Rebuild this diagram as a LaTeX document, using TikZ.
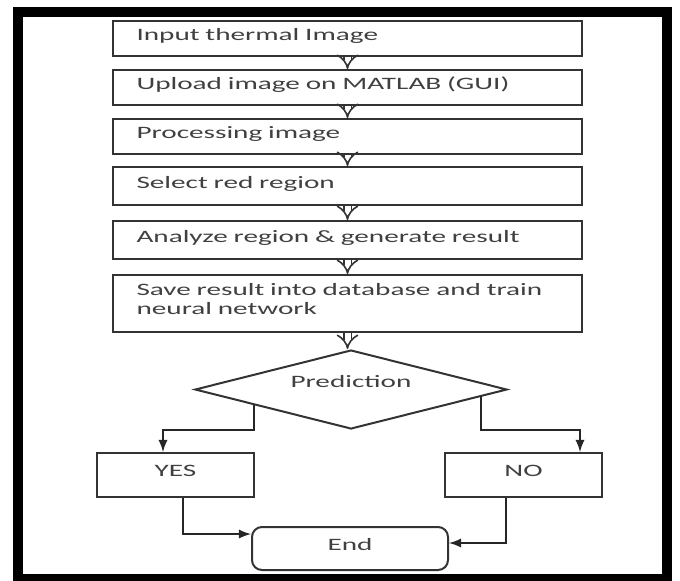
\documentclass[tikz,border=0pt]{standalone}
\usepackage{fontspec}
\setmainfont{Carlito}[FakeStretch=1.68]
\usetikzlibrary{shapes.geometric,arrows.meta,calc}
\begin{document}
\begin{tikzpicture}[
    x=0.5pt,y=-0.5pt,
    >=latex,
    font=\fontsize{8.7}{9.5}\selectfont,
    proc/.style={rectangle,draw=black!80,line width=1pt,minimum width=234.5pt,minimum height=17.5pt,text width=211pt,inner xsep=11.75pt,inner ysep=2pt,text depth=4pt,align=left,text=black!75},
    choice/.style={rectangle,draw=black!80,line width=1pt,minimum width=78.5pt,minimum height=22pt,text depth=4pt,text=black!75},
    decision/.style={diamond,draw=black!80,line width=1pt,minimum width=156pt,minimum height=39.5pt,aspect=4,inner sep=0pt,text depth=8pt,text=black!75},
    term/.style={rectangle,rounded corners=5pt,draw=black!80,line width=1pt,minimum width=98pt,minimum height=21.5pt,text depth=4pt,text=black!75},
    flow/.style={draw=black!80,double,double distance=3pt,line width=0.8pt,-{Implies}},
    line/.style={draw=black!85,line width=1.1pt},
    frame/.style={draw=black,line width=5pt},
]
	\clip (0,0) rectangle (680,580);
	\draw[frame] (17.5,11.5) rectangle (667,579);

	\node[proc] (input) at (347.5,38.5) {Input thermal Image};
	\node[proc] (upload) at (347.5,87.5) {Upload image on MATLAB (GUI)};
	\node[proc] (process) at (347.5,136.5) {Processing image};
	\node[proc,minimum height=19pt] (select) at (347.5,186) {Select red region};
	\node[proc,minimum height=19pt] (analyze) at (347.5,240) {Analyze region \& generate result};
	\node[proc,minimum height=28.5pt,text depth=14.5pt] (save) at (347.5,303.5) {Save result into database and train\\neural network};
	\node[decision] (pred) at (351,389.5) {Prediction};
	\node[choice] (yes) at (175.5,475) {YES};
	\node[choice] (no) at (523.5,475) {NO};
	\node[term] (end) at (350,548.5) {End};

	\foreach \a/\b in {input/upload,upload/process,process/select,select/analyze,analyze/save,save/pred}
		\draw[flow] (\a.south) -- (\a.south |- \b.north);

	% branches
	\coordinate (yk) at ($(pred.west)!0.38!(pred.south)$);
	\coordinate (nk) at ($(pred.east)!0.17!(pred.south)$);
	\draw[line,->] (yk) -- (yk |- pred.south) -| ($(yes.north)+(-12.5,0)$);
	\draw[line,->] (nk) -- (nk |- pred.south) -| ($(no.north)+(56.5,0)$);

	\draw[line,->] ($(yes.south)+(7.5,0)$) |- ($(end.west)+(0,-14.5)$);
	\draw[line,->] ($(no.south)+(-17.5,0)$) |- ($(end.east)+(0,-5.5)$);

\end{tikzpicture}
\end{document}
